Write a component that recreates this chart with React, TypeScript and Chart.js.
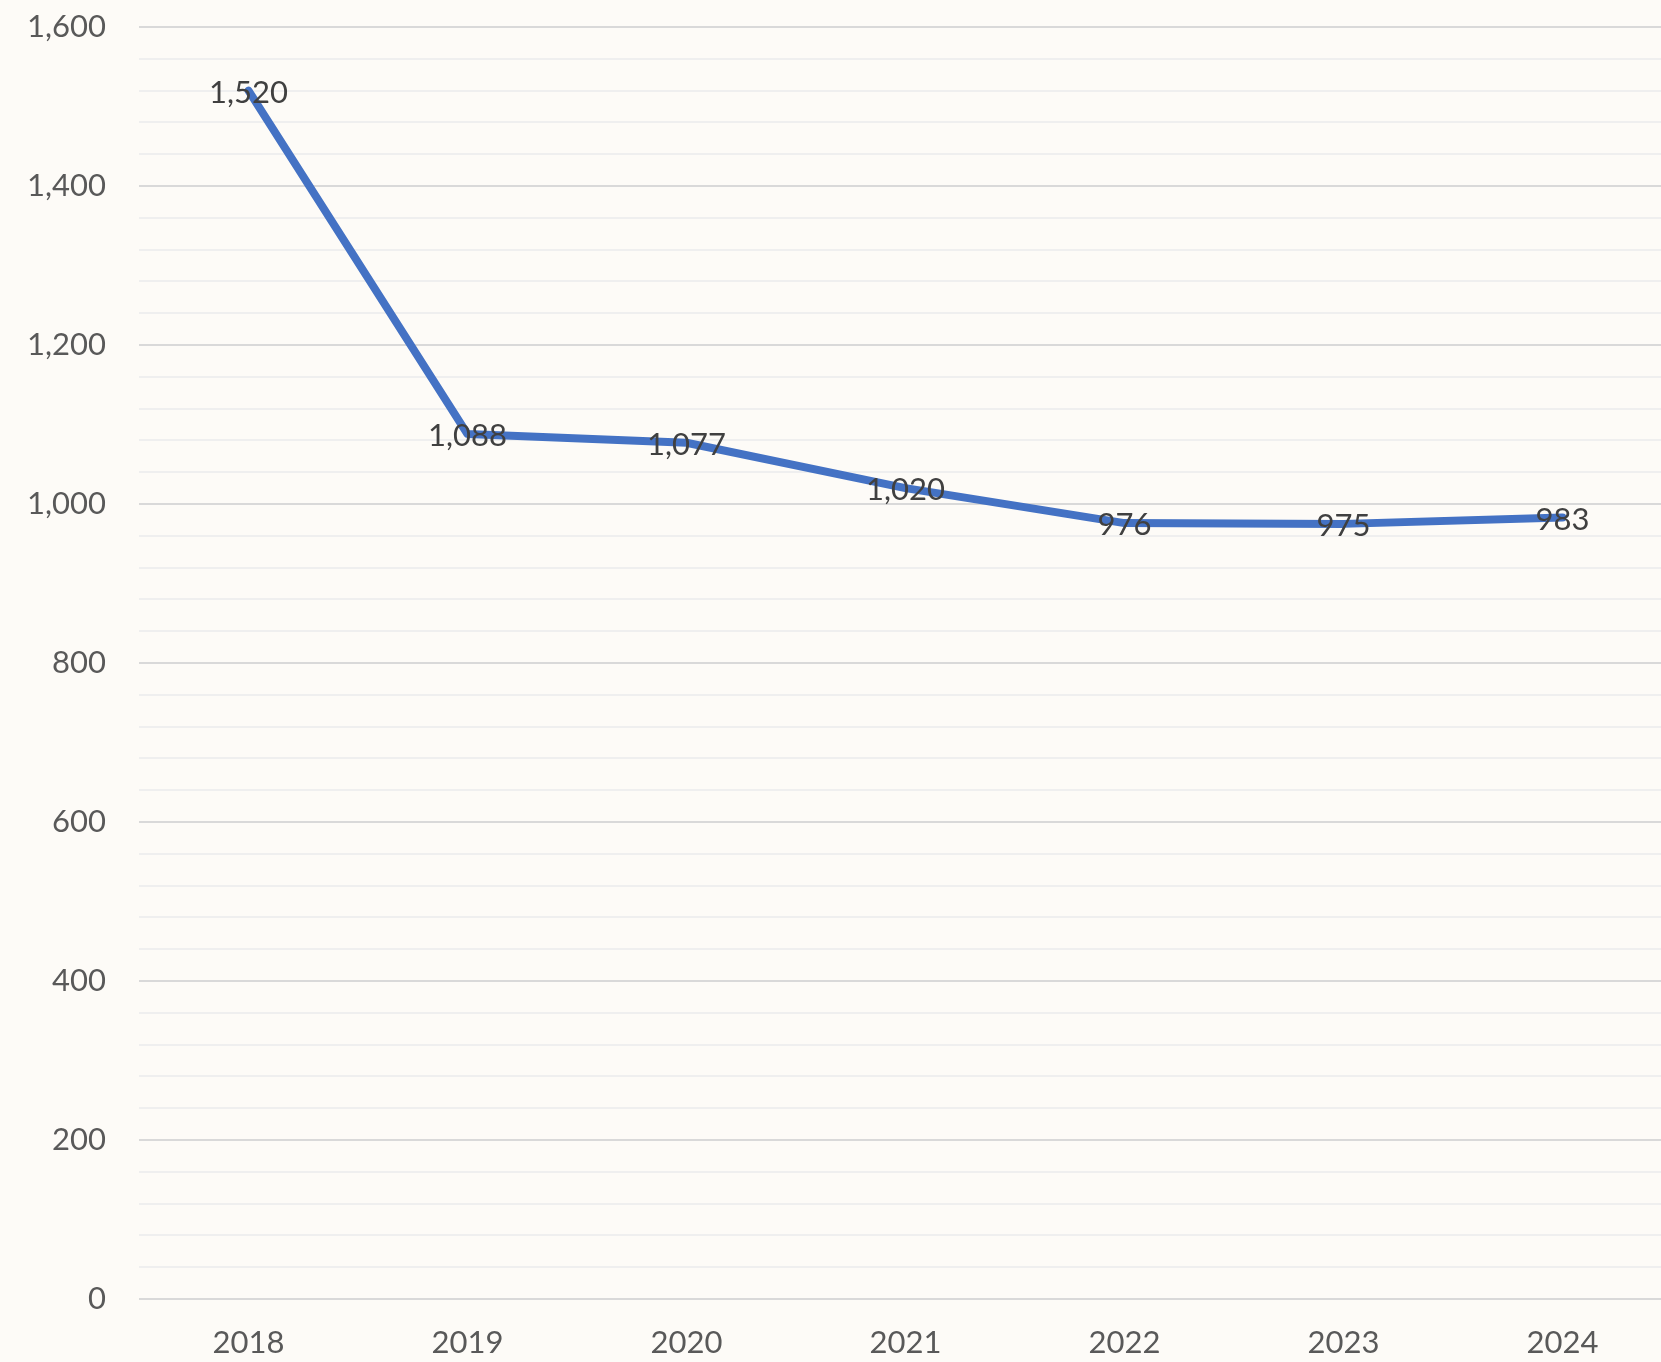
import React, { useEffect, useRef } from "react";
import { Chart, registerables } from "chart.js";

Chart.register(...registerables);

const categories = ["2018", "2019", "2020", "2021", "2022", "2023", "2024"];
const values = [1520, 1088, 1077, 1020, 976, 975, 983];
const yMin = 0;
const yMax = 1600;
const minorStep = 40;
const majorStep = 200;

const FONT = "Lato, 'Open Sans', sans-serif";

const labelPlugin = {
  id: "pointLabels",
  afterDatasetsDraw(chart: any) {
    const ctx = chart.ctx;
    const meta = chart.getDatasetMeta(0);
    ctx.save();
    ctx.font = `31px ${FONT}`;
    ctx.fillStyle = "#404040";
    ctx.textAlign = "center";
    ctx.textBaseline = "middle";
    meta.data.forEach((pt: any, i: number) => {
      ctx.fillText(values[i].toLocaleString("en-US"), pt.x, pt.y + 2);
    });
    ctx.restore();
  },
};

export default function App() {
  const ref = useRef<HTMLCanvasElement>(null);
  useEffect(() => {
    if (!ref.current) return;
    const chart = new Chart(ref.current, {
      type: "line",
      data: {
        labels: categories,
        datasets: [
          {
            data: values,
            borderColor: "#4472C4",
            borderWidth: 8,
            pointRadius: 0,
            borderCapStyle: "round",
            borderJoinStyle: "round",
            tension: 0,
          },
        ],
      },
      options: {
        animation: false,
        responsive: false,
        layout: { padding: { top: 27, left: 0, right: 0, bottom: 0 } },
        plugins: { legend: { display: false }, tooltip: { enabled: false } },
        scales: {
          x: {
            offset: true,
            grid: { display: false, drawTicks: false },
            border: { display: false },
            ticks: { color: "#595959", font: { family: FONT, size: 31 }, padding: 25 },
            afterFit: (s: any) => {
              s.height = 63;
              s.paddingLeft = 0;
              s.paddingRight = 0;
            },
          },
          y: {
            min: yMin,
            max: yMax,
            grid: {
              drawTicks: false,
              color: (c: any) => (c.tick && c.tick.value % majorStep === 0 ? "#D9D9D9" : "#EFEFEF"),
              lineWidth: 2,
            },
            border: { display: false },
            ticks: {
              stepSize: minorStep,
              autoSkip: false,
              padding: 33,
              color: "#595959",
              font: { family: FONT, size: 31 },
              callback: (v: any) => (v % majorStep === 0 ? Number(v).toLocaleString("en-US") : ""),
            },
            afterFit: (s: any) => {
              s.width = 139;
              s.paddingTop = 0;
              s.paddingBottom = 0;
            },
          },
        },
      },
      plugins: [labelPlugin],
    });
    return () => chart.destroy();
  }, []);
  return (
    <div
      style={{
        position: "absolute",
        left: 0,
        top: 0,
        width: 1661,
        height: 1362,
        overflow: "hidden",
        background: "#FDFBF7",
      }}
    >
      <canvas ref={ref} width={1672} height={1362} style={{ display: "block" }} />
    </div>
  );
}
